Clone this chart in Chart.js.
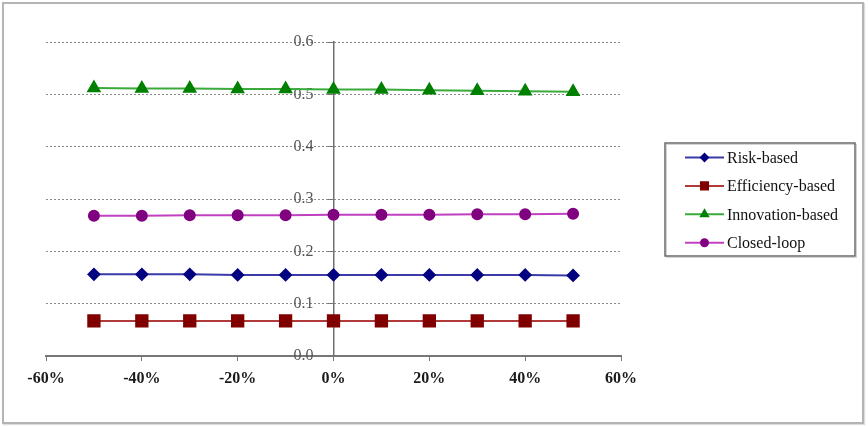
<!DOCTYPE html>
<html>
<head>
<meta charset="utf-8">
<script src="https://cdn.jsdelivr.net/npm/chart.js@4"></script>
<style>
  body { margin: 0; background: #fff; }
  #wrap { position: relative; width: 868px; height: 426px; }
  #frame { position: absolute; left: 2px; top: 2px; width: 858px; height: 418px; border: 2px solid #b4b4b4; box-shadow: 1px 1px 1px #ddd; pointer-events: none; }
  canvas { position: absolute; left: 0; top: 0; }
</style>
</head>
<body>
<div id="wrap">
  <canvas id="chart" width="868" height="426"></canvas>
  <div id="frame"></div>
</div>
<script>
// x values (share change) and the four series
const changes = [-0.5, -0.4, -0.3, -0.2, -0.1, 0, 0.1, 0.2, 0.3, 0.4, 0.5];
const seriesNames = ['Risk-based', 'Efficiency-based', 'Innovation-based', 'Closed-loop'];
const riskBased = [0.156, 0.156, 0.156, 0.155, 0.155, 0.155, 0.155, 0.155, 0.155, 0.155, 0.154];
const efficiencyBased = [0.067, 0.067, 0.067, 0.067, 0.067, 0.067, 0.067, 0.067, 0.067, 0.067, 0.067];
const innovationBased = [0.512, 0.511, 0.511, 0.510, 0.510, 0.509, 0.509, 0.508, 0.507, 0.506, 0.505];
const closedLoop = [0.268, 0.268, 0.269, 0.269, 0.269, 0.270, 0.270, 0.270, 0.271, 0.271, 0.272];
const xTicks = [-0.6, -0.4, -0.2, 0, 0.2, 0.4, 0.6];
const yTicks = [0, 0.1, 0.2, 0.3, 0.4, 0.5, 0.6];

const lineColors = ['#3a3aa8', '#b03a3a', '#3aaa3a', '#c040c0'];
const markColors = ['#000080', '#800000', '#008000', '#800080'];
const markStyles = ['rectRot', 'rect', 'triangle', 'circle'];
const markSizes = [5.5, 8, 6.5, 5];
const legendSizes = [3.5, 5, 4, 3.5];
const allValues = [riskBased, efficiencyBased, innovationBased, closedLoop];

const serif = '"Liberation Serif", "Times New Roman", serif';

const datasets = seriesNames.map((name, i) => ({
    label: name,
    data: changes.map((c, j) => ({ x: c, y: allValues[i][j] })),
    borderColor: lineColors[i],
    borderWidth: 2,
    backgroundColor: markColors[i],
    pointBackgroundColor: markColors[i],
    pointBorderColor: markColors[i],
    pointStyle: markStyles[i],
    pointRadius: markSizes[i],
    tension: 0
}));

// legend drawn by hand: line with small marker, boxed
const boxLegend = {
    id: 'boxLegend',
    afterDraw(chart) {
        const ctx = chart.ctx;
        const x = 665, y = 143, w = 190, h = 113;
        ctx.save();
        ctx.fillStyle = '#fff';
        ctx.fillRect(x, y, w, h);
        ctx.strokeStyle = '#d4d4d4';
        ctx.lineWidth = 1;
        ctx.strokeRect(x + 1.5, y + 1.5, w, h);
        ctx.strokeStyle = '#6a6a6a';
        ctx.lineWidth = 1.5;
        ctx.strokeRect(x, y, w, h);
        ctx.font = '16px ' + serif;
        ctx.textBaseline = 'middle';
        chart.data.datasets.forEach((ds, i) => {
            const ly = y + 14.5 + i * 28.4;
            ctx.strokeStyle = ds.borderColor;
            ctx.lineWidth = 2;
            ctx.beginPath();
            ctx.moveTo(685, ly);
            ctx.lineTo(724, ly);
            ctx.stroke();
            ctx.fillStyle = ds.pointBackgroundColor;
            ctx.strokeStyle = ds.pointBorderColor;
            Chart.helpers.drawPoint(ctx, { pointStyle: ds.pointStyle, radius: legendSizes[i], borderWidth: 1, rotation: 0 }, 704.5, ly);
            ctx.fillStyle = '#111';
            ctx.fillText(ds.label, 727, ly + 1);
        });
        ctx.restore();
    }
};

new Chart(document.getElementById('chart'), {
    type: 'line',
    data: { datasets },
    options: {
        responsive: false,
        animation: false,
        layout: { padding: { left: 46, right: 247, top: 42, bottom: 0 } },
        plugins: { legend: { display: false }, tooltip: { enabled: false } },
        scales: {
            x: {
                type: 'linear',
                position: 'bottom',
                min: -0.6,
                max: 0.6,
                afterBuildTicks: s => { s.ticks = xTicks.map(v => ({ value: v })); },
                afterFit: s => { s.height = 70; },
                ticks: {
                    padding: 8,
                    color: '#1a1a1a',
                    font: { family: serif, size: 16, weight: 'bold' },
                    callback: v => Math.round(v * 100) + '%'
                },
                grid: { drawOnChartArea: false, drawTicks: true, tickLength: 5, color: '#777', lineWidth: 1 },
                border: { color: '#777', width: 2 }
            },
            y: {
                type: 'linear',
                position: { x: 0 },
                min: 0,
                max: 0.6,
                afterBuildTicks: s => { s.ticks = yTicks.map(v => ({ value: v })); },
                afterFit: s => { s.width = 0; },
                ticks: { display: false },
                grid: {
                    color: '#8a8a8a',
                    lineWidth: 1,
                    drawTicks: true,
                    tickLength: 5,
                    tickColor: '#777'
                },
                border: { color: '#707070', width: 1.5, dash: [2, 2], display: true }
            },
            // y tick labels sit a little left of the central axis
            yLabels: {
                type: 'linear',
                axis: 'y',
                position: { x: -0.042 },
                min: 0,
                max: 0.6,
                afterBuildTicks: s => { s.ticks = yTicks.map(v => ({ value: v })); },
                afterFit: s => { s.width = 0; },
                ticks: {
                    color: '#555',
                    font: { family: serif, size: 16 },
                    callback: v => v.toFixed(1)
                },
                grid: { display: false },
                border: { display: false }
            }
        }
    },
    plugins: [boxLegend]
});
</script>
</body>
</html>
